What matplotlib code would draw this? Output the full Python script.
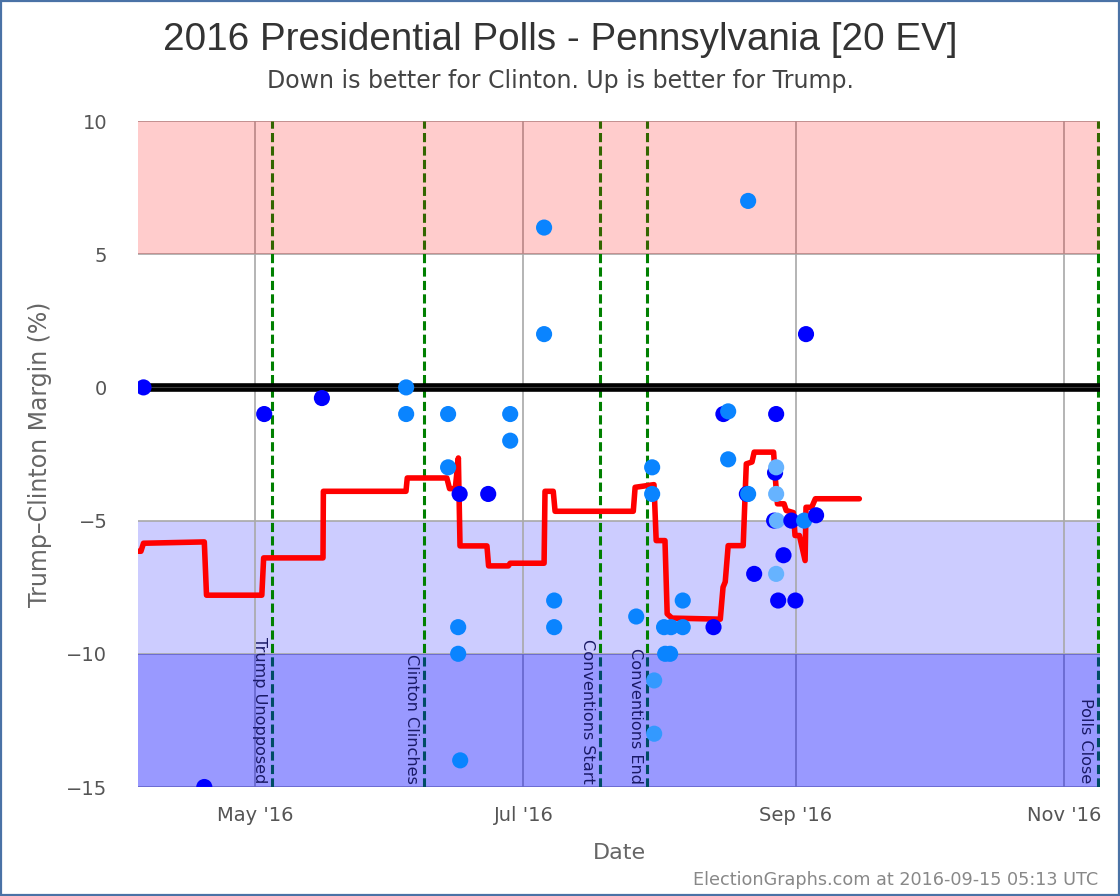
# plot.py
# 2016 presidential polls, Pennsylvania: poll margins + running average
import pandas as pd
import matplotlib
matplotlib.use('Agg')
import matplotlib.pyplot as plt
import matplotlib.dates as mdates
from matplotlib import font_manager
from matplotlib.patches import Rectangle

# ==== data ====
# individual polls: date, Trump-Clinton margin, colour class
poll_dates = [
    '2016-04-05 14:00', '2016-04-19 10:00', '2016-05-03 01:00', '2016-05-16 04:00',
    '2016-06-04 08:00', '2016-06-04 08:00', '2016-06-13 21:00', '2016-06-13 21:00',
    '2016-06-16 04:00', '2016-06-16 04:00', '2016-06-16 15:00', '2016-06-16 12:00',
    '2016-06-23 00:00', '2016-06-28 00:00', '2016-06-28 00:00', '2016-07-05 17:00',
    '2016-07-05 17:00', '2016-07-08 00:00', '2016-07-08 00:00', '2016-07-26 16:00',
    '2016-07-30 07:00', '2016-07-30 07:00', '2016-07-30 18:00', '2016-07-30 18:00',
    '2016-08-02 00:00', '2016-08-02 06:00', '2016-08-03 09:00', '2016-08-03 14:00',
    '2016-08-06 06:00', '2016-08-06 06:00', '2016-08-13 06:00', '2016-08-15 12:00',
    '2016-08-16 14:00', '2016-08-16 14:00', '2016-08-20 20:00', '2016-08-21 03:00',
    '2016-08-21 03:00', '2016-08-22 12:00', '2016-08-27 12:00', '2016-08-27 06:00',
    '2016-08-27 12:00', '2016-08-27 12:00', '2016-08-27 01:00', '2016-08-27 16:00',
    '2016-08-27 12:00', '2016-08-27 23:00', '2016-08-29 04:00', '2016-08-30 23:00',
    '2016-08-31 21:00', '2016-09-02 21:00', '2016-09-03 07:00', '2016-09-05 14:00',
]
poll_margin = [
    0, -15, -1, -0.4,
    0, -1, -1, -3,
    -9, -10, -14, -4,
    -4, -1, -2, 6,
    2, -8, -9, -8.6,
    -3, -4, -11, -13,
    -9, -10, -10, -9,
    -9, -8, -9, -1,
    -0.9, -2.7, -4, 7,
    -4, -7, -1, -3.2,
    -3, -4, -5, -5,
    -7, -8, -6.3, -5,
    -8, -5, 2, -4.8,
]
poll_kind = [
    'd', 'd', 'd', 'd',
    'm', 'm', 'm', 'm',
    'm', 'm', 'm', 'd',
    'd', 'm', 'm', 'm',
    'm', 'm', 'm', 'm',
    'm', 'm', 's', 's',
    'm', 'm', 'm', 'm',
    'm', 'm', 'd', 'd',
    'm', 'm', 'd', 'm',
    'm', 'd', 'd', 'd',
    'l', 'l', 'd', 'l',
    'l', 'd', 'd', 'd',
    'd', 'm', 'd', 'd',
]
kind_color = {'d': '#0000ff', 'm': '#0a84ff', 's': '#3399ff', 'l': '#66b3ff'}

# running average
avg_dates = [
    '2016-04-04 05:00', '2016-04-05 00:00', '2016-04-05 14:00', '2016-04-19 10:00',
    '2016-04-19 22:00', '2016-05-02 12:00', '2016-05-02 22:00', '2016-05-16 10:00',
    '2016-05-16 12:00', '2016-06-04 07:00', '2016-06-04 14:00', '2016-06-13 14:00',
    '2016-06-14 05:00', '2016-06-15 12:00', '2016-06-16 05:00', '2016-06-16 14:00',
    '2016-06-22 17:00', '2016-06-23 02:00', '2016-06-27 14:00', '2016-06-28 00:00',
    '2016-07-05 17:00', '2016-07-05 22:00', '2016-07-07 19:00', '2016-07-08 05:00',
    '2016-07-26 00:00', '2016-07-26 10:00', '2016-07-30 17:00', '2016-07-31 05:00',
    '2016-08-02 05:00', '2016-08-02 17:00', '2016-08-03 19:00', '2016-08-14 19:00',
    '2016-08-15 10:00', '2016-08-15 22:00', '2016-08-16 14:00', '2016-08-20 00:00',
    '2016-08-20 17:00', '2016-08-22 00:00', '2016-08-22 12:00', '2016-08-26 22:00',
    '2016-08-27 07:00', '2016-08-27 19:00', '2016-08-29 07:00', '2016-08-29 19:00',
    '2016-08-31 10:00', '2016-08-31 19:00', '2016-09-01 19:00', '2016-09-03 02:00',
    '2016-09-03 07:00', '2016-09-04 14:00', '2016-09-05 10:00', '2016-09-15 10:00',
]
avg_margin = [
    -6.15, -6.15, -5.85, -5.8,
    -7.8, -7.8, -6.4, -6.4,
    -3.9, -3.9, -3.4, -3.4,
    -3.8, -3.8, -2.65, -5.95,
    -5.95, -6.7, -6.7, -6.6,
    -6.6, -3.9, -3.9, -4.65,
    -4.65, -3.75, -3.65, -5.75,
    -5.75, -8.5, -8.66, -8.7,
    -7.5, -7.3, -5.94, -5.94,
    -2.87, -2.8, -2.43, -2.43,
    -3.37, -4.37, -4.37, -4.62,
    -4.7, -5.56, -5.56, -6.5,
    -4.5, -4.5, -4.18, -4.18,
]

# events
event_dates = ['2016-05-04 21:00', '2016-06-08 10:00', '2016-07-18 12:00',
               '2016-07-29 05:00', '2016-11-08 17:00']
event_names = ['Trump Unopposed', 'Clinton Clinches', 'Conventions Start',
               'Conventions End', 'Polls Close']

# category bands (margin ranges)
band_lo = [5, -10, -15]
band_hi = [10, -5, -10]

x_start, x_end = '2016-04-04 08:00', '2016-11-09 04:00'

# ==== fonts ====
names = {f.name for f in font_manager.fontManager.ttflist}
if 'Liberation Sans' in names:
    title_kw = dict(family='Liberation Sans', fontsize=27.8)
else:
    title_kw = dict(family='DejaVu Sans', fontsize=24)

# ==== plotting ====
fig = plt.figure(figsize=(11.2, 8.96), dpi=100)
ax = fig.add_axes([138/1120, 1 - 787/896, (1100 - 138)/1120, (787 - 121)/896])

pd_polls = pd.to_datetime(poll_dates)
pd_avg = pd.to_datetime(avg_dates)
pd_events = pd.to_datetime(event_dates)

# bands: light blue under the event lines, pink and dark blue over them
ax.axhspan(band_lo[1], band_hi[1], color='#ccccff', lw=0, zorder=0.5)
ax.axhspan(band_lo[0], band_hi[0], color='#ff0000', alpha=0.2, lw=0, zorder=3)
ax.axhspan(band_lo[2], band_hi[2], color='#0000ff', alpha=0.4, lw=0, zorder=3)

for d, name in zip(pd_events, event_names):
    ax.axvline(d, color='#008000', lw=2.2, ls=(0, (3, 1.4)), zorder=2)
    ax.annotate(name, xy=(d, -15), xytext=(-3.5, 2.5), textcoords='offset points',
                rotation=270, ha='right', va='bottom', fontsize=11.6,
                color='#1a1a66', zorder=4)

ax.axhline(0, color='black', lw=6.2, zorder=4)
ax.axhline(0, color='#3c3c3c', lw=0.8, zorder=4.1)
ax.plot(pd_avg, avg_margin, color='#ff0000', lw=4, solid_joinstyle='round',
        solid_capstyle='round', zorder=5)
ax.scatter(pd_polls, poll_margin, s=135, c=[kind_color[k] for k in poll_kind],
           lw=0, zorder=6)

ax.set_xlim(pd.Timestamp(x_start), pd.Timestamp(x_end))
ax.set_ylim(-15, 10)
ax.set_yticks([10, 5, 0, -5, -10, -15])
ax.xaxis.set_major_locator(mdates.MonthLocator(bymonth=[5, 7, 9, 11]))
ax.xaxis.set_major_formatter(mdates.DateFormatter("%b '%y"))
ax.grid(True, color='#a8a8a8', lw=1.2, zorder=1)
ax.set_axisbelow(True)
for s in ax.spines.values():
    s.set_visible(False)
ax.tick_params(axis='both', length=0, labelsize=14, labelcolor='#555555')
ax.tick_params(axis='y', pad=22)
ax.tick_params(axis='x', pad=14)

fig.text(0.5, 1 - 40/896, '2016 Presidential Polls - Pennsylvania [20 EV]',
         ha='center', va='center', color='#333333', **title_kw)
fig.text(0.5, 1 - 81/896, 'Down is better for Clinton. Up is better for Trump.',
         ha='center', va='center', fontsize=17, color='#444444')
fig.text(619/1120, 1 - 853/896, 'Date', ha='center', va='center',
         fontsize=16, color='#666666')
fig.text(40/1120, 1 - 454/896, 'Trump\u2013Clinton Margin (%)', ha='center',
         va='center', rotation=90, fontsize=17, color='#666666')
fig.text(1098/1120, 1 - 880/896, 'ElectionGraphs.com at 2016-09-15 05:13 UTC',
         ha='right', va='center', fontsize=12.7, color='#888888')

fig.patches.append(Rectangle((0.001, 0.001), 0.998, 0.998, transform=fig.transFigure,
                             fill=False, ec='#4a72a6', lw=1.6))

fig.savefig('out.png', dpi=100)
